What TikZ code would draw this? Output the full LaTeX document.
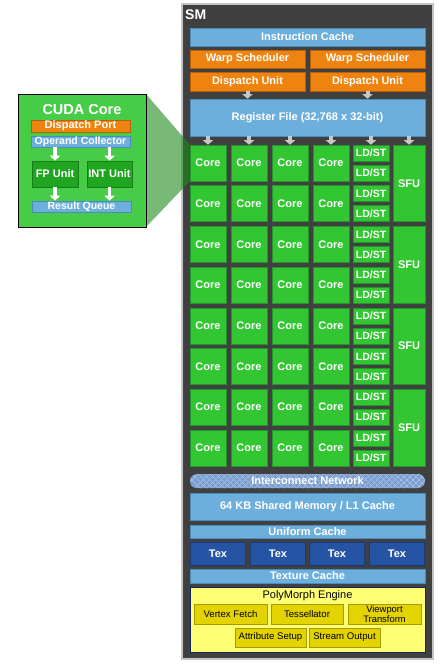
\documentclass[tikz,border=0pt]{standalone}
\usepackage{fontspec}
\setmainfont{Liberation Sans}
\usetikzlibrary{arrows.meta,patterns.meta}
\definecolor{SmGray}{HTML}{404040}
\definecolor{SmEdge}{HTML}{C4C4C4}
\definecolor{CacheBlue}{HTML}{6DAFDC}
\definecolor{CacheEdge}{HTML}{4A8CBE}
\definecolor{WarpOrange}{HTML}{EF8310}
\definecolor{WarpEdge}{HTML}{B85F08}
\definecolor{CoreGreen}{HTML}{33C633}
\definecolor{CoreEdge}{HTML}{23962A}
\definecolor{UnitGreen}{HTML}{20A520}
\definecolor{ZoomGreen}{HTML}{1E8A1E}
\definecolor{TexBlue}{HTML}{2554A4}
\definecolor{TexEdge}{HTML}{183A78}
\definecolor{NetBlue}{HTML}{7C9FD0}
\definecolor{NetLight}{HTML}{A9C1E6}
\definecolor{PolyYellow}{HTML}{FFFF73}
\definecolor{StageYellow}{HTML}{E3D300}
\definecolor{StageEdge}{HTML}{A89A00}
\definecolor{ArrowGray}{HTML}{C8C8C8}
\newcommand{\fsz}[1]{\fontsize{#1}{#1}\selectfont}

\begin{document}
\begin{tikzpicture}[x=1pt,y=-1pt,
  blk/.style={inner sep=0pt,align=center,text=white,font=\fsz{11}\bfseries},
  cache/.style={blk,fill=CacheBlue,draw=CacheEdge,line width=0.6pt,minimum width=235pt},
  warp/.style={blk,fill=WarpOrange,draw=WarpEdge,line width=0.6pt,minimum width=115pt},
  core/.style={blk,fill=CoreGreen,draw=CoreEdge,line width=0.6pt,minimum width=36pt,minimum height=36pt},
  ldst/.style={core,minimum height=16pt,font=\fsz{10.5}\bfseries},
  sfu/.style={core,minimum width=32pt,minimum height=76.7pt},
  tex/.style={blk,fill=TexBlue,draw=TexEdge,line width=0.6pt,minimum width=55pt,minimum height=23pt},
  stage/.style={inner sep=0pt,align=center,fill=StageYellow,draw=StageEdge,line width=0.6pt,
                minimum height=20pt,font=\fsz{9.6}},
  gar/.style={draw=ArrowGray,line width=4pt,-{Triangle[length=4.5pt,width=10pt]}},
  war/.style={draw=white,line width=3.5pt,-{Triangle[length=5pt,width=10pt]}},
]
\useasboundingbox (0,0) rectangle (445,667);

% streaming multiprocessor
\node[fill=SmGray,draw=SmEdge,line width=1.5pt,minimum width=251pt,minimum height=655pt] (sm) at (307.5,331.5) {};
\node[anchor=west,inner sep=0pt,text=white,font=\fsz{14}\bfseries] (smlbl) at (185,15) {SM};

\node[cache,minimum height=18pt] (icache) at (307.5,37) {Instruction Cache};
\node[warp,minimum height=18pt] (ws1) at (247.5,59) {Warp Scheduler};
\node[warp,minimum height=18pt] (ws2) at (367.5,59) {Warp Scheduler};
\node[warp,minimum height=19pt] (du1) at (247.5,81.5) {Dispatch Unit};
\node[warp,minimum height=19pt] (du2) at (367.5,81.5) {Dispatch Unit};
\node[cache,minimum height=37pt] (rf) at (307.5,117.5) {Register File (32,768 x 32-bit)};
\draw[gar] (du1) -- (rf.north -| du1);
\draw[gar] (du2) -- (rf.north -| du2);

% cores and load/store units
\foreach \r in {1,...,8}{
  \pgfmathsetmacro\ty{145+40.7*(\r-1)}
  \foreach \c/\cx in {1/208,2/249,3/290,4/331}
    \node[core] (c\r\c) at (\cx,\ty+18) {Core};
  \node[ldst] (lsa\r) at (371,\ty+8) {LD/ST};
  \node[ldst] (lsb\r) at (371,\ty+28) {LD/ST};
}
\foreach \k in {1,...,4}
  \node[sfu] (sfu\k) at (409,145+81.4*\k-81.4+38.35) {SFU};
\foreach \n in {c11,c12,c13,c14,lsa1,sfu1}
  \draw[gar] (rf.south -| \n) -- (\n.north);

% memory and texture
\node[blk,fill=NetBlue,rounded corners=7pt,minimum width=235pt,minimum height=14pt,
      postaction={pattern={Lines[angle=45,distance=4pt,line width=0.7pt]},pattern color=NetLight},
      postaction={pattern={Lines[angle=-45,distance=4pt,line width=0.7pt]},pattern color=NetLight}]
  (net) at (307.5,481) {Interconnect Network};
\node[cache,minimum height=27pt] (smem) at (307.5,506.5) {64 KB Shared Memory / L1 Cache};
\node[cache,minimum height=13pt] (ucache) at (307.5,531.5) {Uniform Cache};
\foreach \t/\tx in {1/218,2/278,3/337,4/397}
  \node[tex] (tex\t) at (\tx,553.5) {Tex};
\node[cache,minimum height=14pt] (tcache) at (307.5,576) {Texture Cache};

% polymorph engine
\node[fill=PolyYellow,draw=TexEdge!70!black,line width=0.6pt,minimum width=235pt,minimum height=65pt] (poly) at (307.5,619.5) {};
\node[inner sep=0pt,font=\fsz{11}] (polylbl) at (307.5,596) {PolyMorph Engine};
\node[stage,minimum width=73pt] (vfetch) at (230.5,614) {Vertex Fetch};
\node[stage,minimum width=72pt] (tess) at (307,614) {Tessellator};
\node[stage,minimum width=73pt,font=\fontsize{9.4}{8.6}\selectfont] (vport) at (384.5,614) {Viewport\\Transform};
\node[stage,minimum width=71pt,minimum height=19pt] (attr) at (270.5,637.5) {Attribute Setup};
\node[stage,minimum width=71pt,minimum height=19pt] (sout) at (344.5,637.5) {Stream Output};

% cuda core close-up
\coordinate (zt) at (146,94);
\coordinate (zb) at (146,227);
\fill[ZoomGreen,opacity=0.6] (zt) -- (c11.north west) -- (c11.south west) -- (zb) -- cycle;
\node[fill=CoreGreen!90!white,draw=black,line width=1pt,minimum width=128pt,minimum height=133pt] (inset) at (82,160.5) {};
\node[blk,font=\fsz{14.5}\bfseries] (cclbl) at (82,110) {CUDA Core};
\node[warp,minimum width=99pt,minimum height=12pt,font=\fsz{11}\bfseries] (dport) at (80.5,126) {Dispatch Port};
\node[cache,minimum width=99pt,minimum height=11pt,font=\fsz{10.5}\bfseries] (opcol) at (80.5,141.5) {Operand Collector};
\node[blk,fill=UnitGreen,draw=UnitGreen!75!black,line width=0.6pt,minimum width=46pt,minimum height=26pt] (fpu) at (55,174) {FP Unit};
\node[blk,fill=UnitGreen,draw=UnitGreen!75!black,line width=0.6pt,minimum width=45pt,minimum height=26pt] (intu) at (109.5,174) {INT Unit};
\node[cache,minimum width=99pt,minimum height=11pt,font=\fsz{10.5}\bfseries] (rqueue) at (81.5,206.5) {Result Queue};
\draw[war] (opcol.south -| fpu) -- (fpu);
\draw[war] (opcol.south -| intu) -- (intu);
\draw[war] (fpu) -- (rqueue.north -| fpu);
\draw[war] (intu) -- (rqueue.north -| intu);
\end{tikzpicture}
\end{document}
